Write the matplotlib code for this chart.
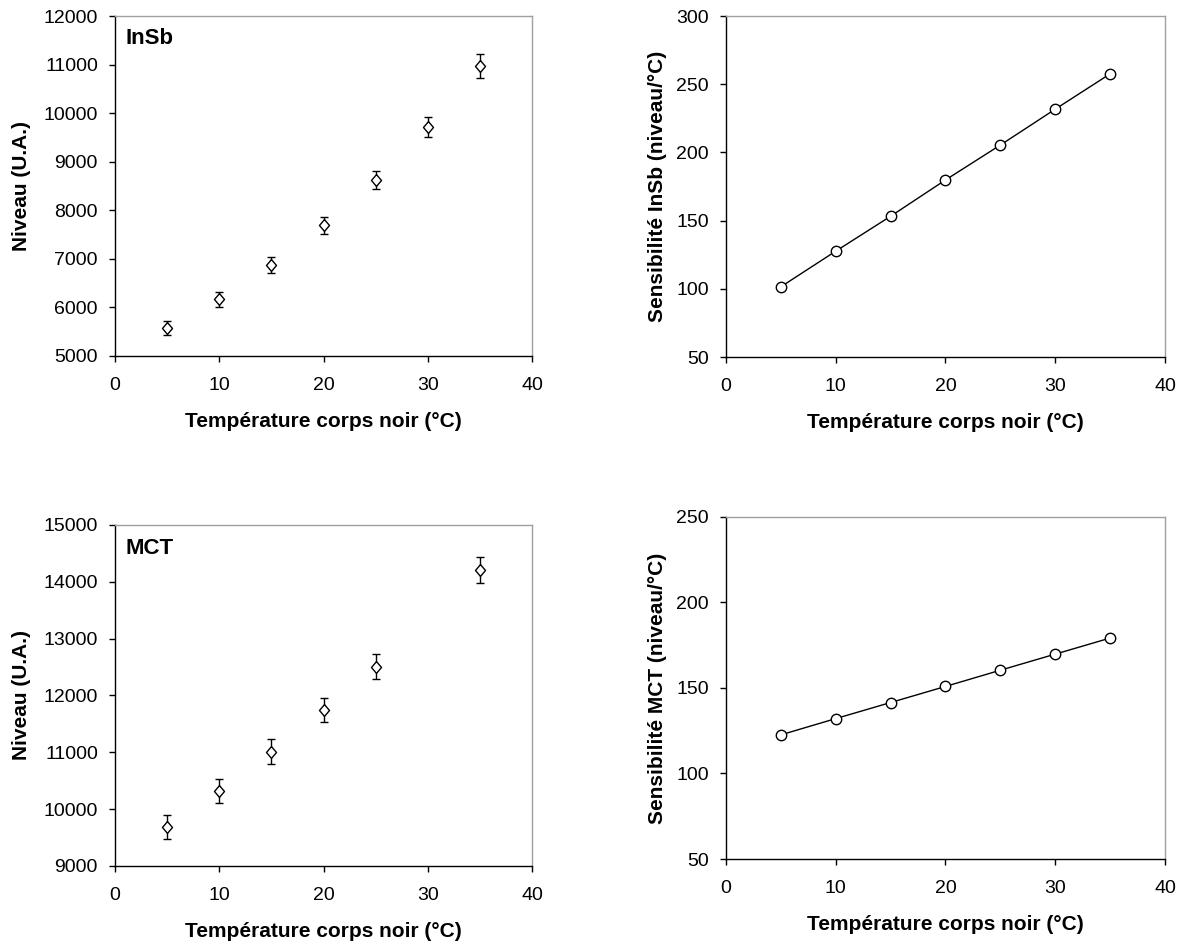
import matplotlib
matplotlib.use("Agg")
import matplotlib.pyplot as plt

plt.rcParams['font.family'] = ['Liberation Sans', 'DejaVu Sans']

temp = [5, 10, 15, 20, 25, 30, 35]

insb_niveau = [5580, 6170, 6870, 7690, 8620, 9710, 10970]
insb_err = [147, 155, 160, 175, 190, 210, 240]

mct_temp = [5, 10, 15, 20, 25, 35]
mct_niveau = [9690, 10325, 11012, 11739, 12507, 14202]
mct_err = [215, 210, 215, 210, 215, 230]

insb_sens = [101.5, 127.6, 153.2, 179.8, 205.4, 231.7, 257.6]
mct_sens = [122.6, 132.1, 141.5, 150.9, 160.4, 169.8, 179.2]

xlabel = "Température corps noir (°C)"

# slightly narrow diamond like the original
losange = [(0, 1), (0.85, 0), (0, -1), (-0.85, 0), (0, 1)]


def style(ax, ylim, yticks):
    ax.set_xlim(0, 40)
    ax.set_xticks([0, 10, 20, 30, 40])
    ax.set_ylim(*ylim)
    ax.set_yticks(yticks)
    ax.spines['top'].set_color('#a0a0a0')
    ax.spines['right'].set_color('#a0a0a0')
    for s in ['left', 'bottom']:
        ax.spines[s].set_color('black')
    for s in ax.spines.values():
        s.set_linewidth(1.0)
    ax.tick_params(direction='out', length=4.3, width=1, labelsize=14)
    ax.tick_params(axis='x', pad=11)
    ax.tick_params(axis='y', pad=8)
    ax.set_xlabel(xlabel, fontsize=15, fontweight='bold', labelpad=13)


fig = plt.figure(figsize=(11.82, 9.42), dpi=100)

ax1 = fig.add_axes([0.0973, 0.6221, 0.3528, 0.3609])
ax2 = fig.add_axes([0.6142, 0.6210, 0.3714, 0.3620])
ax3 = fig.add_axes([0.0973, 0.0807, 0.3528, 0.3620])
ax4 = fig.add_axes([0.6142, 0.0881, 0.3714, 0.3631])

ax1.errorbar(temp, insb_niveau, yerr=insb_err, fmt='none', ecolor='black',
             elinewidth=1, capsize=3, capthick=1)
ax1.plot(temp, insb_niveau, ls='none', marker=losange, mfc='white', mec='black',
         ms=8.5, mew=1)
style(ax1, (5000, 12000), range(5000, 12001, 1000))
ax1.set_ylabel("Niveau (U.A.)", fontsize=15, fontweight='bold', labelpad=9)
ax1.text(0.024, 0.933, "InSb", transform=ax1.transAxes, fontsize=16,
         fontweight='bold', va='center', ha='left')

ax2.plot(temp, insb_sens, color='black', lw=1, marker='o', mfc='white',
         mec='black', ms=7.5, mew=1)
style(ax2, (50, 300), range(50, 301, 50))
ax2.set_ylabel("Sensibilité InSb (niveau/°C)", fontsize=15, fontweight='bold', labelpad=7)

ax3.errorbar(mct_temp, mct_niveau, yerr=mct_err, fmt='none', ecolor='black',
             elinewidth=1, capsize=3, capthick=1)
ax3.plot(mct_temp, mct_niveau, ls='none', marker=losange, mfc='white', mec='black',
         ms=8.5, mew=1)
style(ax3, (9000, 15000), range(9000, 15001, 1000))
ax3.set_ylabel("Niveau (U.A.)", fontsize=15, fontweight='bold', labelpad=9)
ax3.text(0.024, 0.93, "MCT", transform=ax3.transAxes, fontsize=16,
         fontweight='bold', va='center', ha='left')

ax4.plot(temp, mct_sens, color='black', lw=1, marker='o', mfc='white',
         mec='black', ms=7.5, mew=1)
style(ax4, (50, 250), range(50, 251, 50))
ax4.set_ylabel("Sensibilité MCT (niveau/°C)", fontsize=15, fontweight='bold', labelpad=7)

fig.savefig("out.png", dpi=100)
